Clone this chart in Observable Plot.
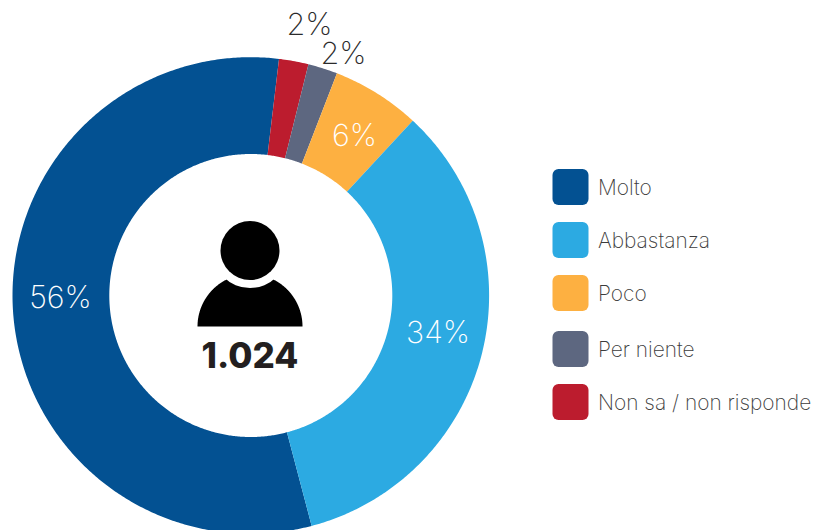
<!DOCTYPE html>
<html>
<head>
<meta charset="utf-8">
<script src="https://cdn.jsdelivr.net/npm/d3@7"></script>
<script src="https://cdn.jsdelivr.net/npm/@observablehq/plot@0.6"></script>
<style>
html,body{margin:0;padding:0;background:#fff;overflow:hidden}
svg{display:block}
</style>
</head>
<body>
<div id="chart"></div>
<script>
// Data
const categories = ["Molto", "Non sa / non risponde", "Per niente", "Poco", "Abbastanza"];
const values = [56, 2, 2, 6, 34];
const labels = ["56%", "2%", "2%", "6%", "34%"];
const colors = ["#035192", "#BC1C2E", "#5D6780", "#FDB041", "#2CAAE2"];
const legendOrder = ["Molto", "Abbastanza", "Poco", "Per niente", "Non sa / non risponde"];
const total = "1.024";

// Layout
const W = 814, H = 530, cx = 250.3, cy = 295, R = 238.3, r0 = 141.5, startDeg = 165.2;
const labelX = [60, 309, 343, 354, 437.5];
const labelY = [297.5, 24.5, 54, 135.5, 332.5];
const labelFill = ["#fff", "#2b2b2b", "#2b2b2b", "#fff", "#fff"];
const legendY = [187, 240, 293, 349, 402];
const SW = 36, legendX = 552.5, legendTextX = 597.5;
const FONT = "Inter, sans-serif";

function ring(name, a0, a1, rOut, rIn, ox, oy) {
  const pts = [], n = Math.max(2, Math.ceil(Math.abs(a1 - a0) * 2));
  const at = (deg, rad) => ({name, x: ox + rad * Math.sin(deg * Math.PI / 180), y: oy - rad * Math.cos(deg * Math.PI / 180)});
  for (let i = 0; i <= n; i++) pts.push(at(a0 + (a1 - a0) * i / n, rOut));
  for (let i = n; i >= 0; i--) pts.push(at(a0 + (a1 - a0) * i / n, rIn));
  return pts;
}

const sum = d3.sum(values);
let acc = startDeg;
const slices = categories.flatMap((c, i) => {
  const a0 = acc; acc += values[i] / sum * 360;
  return ring(c, a0, acc, R, r0, cx, cy);
});
const body = ring("body", -90, 90, 52.5, 0, 249.5, 326);
const idx = d3.range(categories.length);
const leg = legendOrder.map((name, i) => ({name, y: legendY[i]}));

const plot = Plot.plot({
  width: W, height: H,
  marginTop: 0, marginRight: 0, marginBottom: 0, marginLeft: 0,
  x: {domain: [0, W], range: [0, W], axis: null},
  y: {domain: [0, H], range: [0, H], axis: null},
  color: {domain: categories, range: colors},
  style: {background: "#fff"},
  marks: [
    Plot.line(slices, {x: "x", y: "y", z: "name", fill: "name", stroke: null, curve: "linear"}),
    Plot.line(body, {x: "x", y: "y", z: "name", fill: "#000", stroke: null}),
    Plot.dot([0], {x: () => 249.5, y: () => 250, r: 37.5, fill: "#fff", stroke: null}),
    Plot.dot([0], {x: () => 249.5, y: () => 250, r: 29.5, fill: "#000", stroke: null}),
    Plot.text([total], {x: () => 249.5, y: () => 356, text: d => d, fontFamily: FONT, fontWeight: 800, fontSize: 35, fill: "#231F20", textAnchor: "middle"}),
    Plot.text(idx, {x: i => labelX[i], y: i => labelY[i], text: i => labels[i], fill: i => labelFill[i], fontFamily: FONT, fontWeight: 200, fontSize: 30.5, textAnchor: "middle"}),
    Plot.rect(leg, {x1: () => legendX, x2: () => legendX + SW, y1: d => d.y - SW / 2, y2: d => d.y + SW / 2, fill: "name", rx: 6}),
    Plot.text(leg, {x: () => legendTextX, y: d => d.y + 1, text: "name", fill: "#3c3c3c", fontFamily: FONT, fontWeight: 200, fontSize: 20.9, textAnchor: "start"})
  ]
});
document.getElementById("chart").append(plot);
</script>
</body>
</html>
